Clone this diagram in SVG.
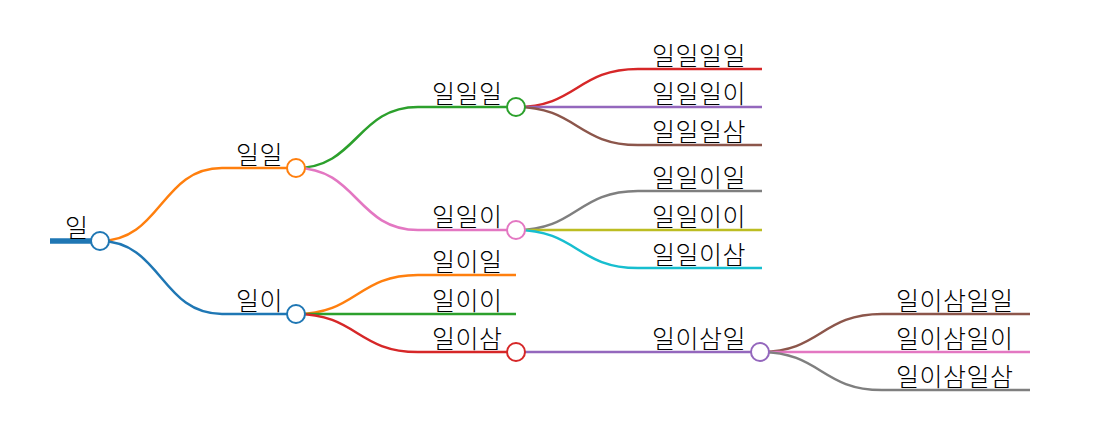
<svg xmlns="http://www.w3.org/2000/svg" width="1093" height="443" viewBox="0 0 1093 443">
<style>
.l{fill:none;stroke-width:2.5}
.c{fill:#fff;stroke-width:2}
text{font-family:"Noto Sans CJK KR","Noto Sans",sans-serif;font-size:25px;font-weight:300;letter-spacing:0.5px;fill:#000}
</style>
<rect width="1093" height="443" fill="#fff"/>
<g id="connectors">
<path class="l" stroke="#ff7f0e" d="M100,241 C161,241 161,168 222,168"/>
<path class="l" stroke="#1f77b4" d="M100,241 C161,241 161,314 222,314"/>
<path class="l" stroke="#2ca02c" d="M296,168 C357,168 357,107 418,107"/>
<path class="l" stroke="#e377c2" d="M296,168 C357,168 357,230 418,230"/>
<path class="l" stroke="#ff7f0e" d="M296,314 C357,314 357,275 418,275"/>
<path class="l" stroke="#2ca02c" d="M296,314 C357,314 357,314 418,314"/>
<path class="l" stroke="#d62728" d="M296,314 C357,314 357,352 418,352"/>
<path class="l" stroke="#d62728" d="M516,107 C577,107 577,69 638,69"/>
<path class="l" stroke="#9467bd" d="M516,107 C577,107 577,107 638,107"/>
<path class="l" stroke="#8c564b" d="M516,107 C577,107 577,145 638,145"/>
<path class="l" stroke="#7f7f7f" d="M516,230 C577,230 577,191 638,191"/>
<path class="l" stroke="#bcbd22" d="M516,230 C577,230 577,230 638,230"/>
<path class="l" stroke="#17becf" d="M516,230 C577,230 577,268 638,268"/>
<path class="l" stroke="#9467bd" d="M516,352 C577,352 577,352 638,352"/>
<path class="l" stroke="#8c564b" d="M760,352 C821,352 821,314 882,314"/>
<path class="l" stroke="#e377c2" d="M760,352 C821,352 821,352 882,352"/>
<path class="l" stroke="#7f7f7f" d="M760,352 C821,352 821,390 882,390"/>
</g>
<g id="n-root">
<line x1="50" y1="241" x2="100" y2="241" stroke="#1f77b4" stroke-width="5.5"/>
<text x="65" y="237">일</text>
<circle class="c" cx="100" cy="241" r="9" stroke="#1f77b4"/>
</g>
<g id="n-11">
<line class="l" x1="222" y1="168" x2="296" y2="168" stroke="#ff7f0e"/>
<text x="236" y="164">일일</text>
<circle class="c" cx="296" cy="168" r="9" stroke="#ff7f0e"/>
</g>
<g id="n-12">
<line class="l" x1="222" y1="314" x2="296" y2="314" stroke="#1f77b4"/>
<text x="236" y="310">일이</text>
<circle class="c" cx="296" cy="314" r="9" stroke="#1f77b4"/>
</g>
<g id="n-111">
<line class="l" x1="418" y1="107" x2="516" y2="107" stroke="#2ca02c"/>
<text x="432" y="103">일일일</text>
<circle class="c" cx="516" cy="107" r="9" stroke="#2ca02c"/>
</g>
<g id="n-112">
<line class="l" x1="418" y1="230" x2="516" y2="230" stroke="#e377c2"/>
<text x="432" y="226">일일이</text>
<circle class="c" cx="516" cy="230" r="9" stroke="#e377c2"/>
</g>
<g id="n-121">
<line class="l" x1="418" y1="275" x2="516" y2="275" stroke="#ff7f0e"/>
<text x="432" y="271">일이일</text>
</g>
<g id="n-122">
<line class="l" x1="418" y1="314" x2="516" y2="314" stroke="#2ca02c"/>
<text x="432" y="310">일이이</text>
</g>
<g id="n-123">
<line class="l" x1="418" y1="352" x2="516" y2="352" stroke="#d62728"/>
<text x="432" y="348">일이삼</text>
<circle class="c" cx="516" cy="352" r="9" stroke="#d62728"/>
</g>
<g id="n-1111">
<line class="l" x1="638" y1="69" x2="762" y2="69" stroke="#d62728"/>
<text x="652" y="65">일일일일</text>
</g>
<g id="n-1112">
<line class="l" x1="638" y1="107" x2="762" y2="107" stroke="#9467bd"/>
<text x="652" y="103">일일일이</text>
</g>
<g id="n-1113">
<line class="l" x1="638" y1="145" x2="762" y2="145" stroke="#8c564b"/>
<text x="652" y="141">일일일삼</text>
</g>
<g id="n-1121">
<line class="l" x1="638" y1="191" x2="762" y2="191" stroke="#7f7f7f"/>
<text x="652" y="187">일일이일</text>
</g>
<g id="n-1122">
<line class="l" x1="638" y1="230" x2="762" y2="230" stroke="#bcbd22"/>
<text x="652" y="226">일일이이</text>
</g>
<g id="n-1123">
<line class="l" x1="638" y1="268" x2="762" y2="268" stroke="#17becf"/>
<text x="652" y="264">일일이삼</text>
</g>
<g id="n-1231">
<line class="l" x1="638" y1="352" x2="760" y2="352" stroke="#9467bd"/>
<text x="652" y="348">일이삼일</text>
<circle class="c" cx="760" cy="352" r="9" stroke="#9467bd"/>
</g>
<g id="n-12311">
<line class="l" x1="882" y1="314" x2="1030" y2="314" stroke="#8c564b"/>
<text x="896" y="310">일이삼일일</text>
</g>
<g id="n-12312">
<line class="l" x1="882" y1="352" x2="1030" y2="352" stroke="#e377c2"/>
<text x="896" y="348">일이삼일이</text>
</g>
<g id="n-12313">
<line class="l" x1="882" y1="390" x2="1030" y2="390" stroke="#7f7f7f"/>
<text x="896" y="386">일이삼일삼</text>
</g>
</svg>
